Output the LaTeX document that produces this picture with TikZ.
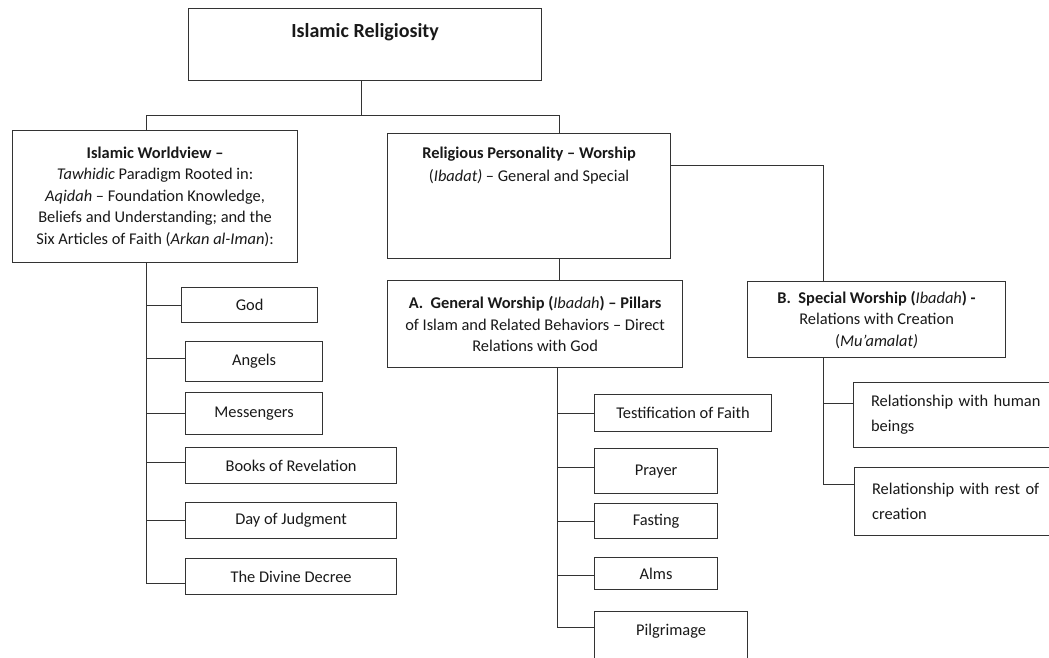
\documentclass[tikz,border=0pt]{standalone}
\usepackage{fontspec}
\setmainfont{Carlito}
\begin{document}
\begin{tikzpicture}[x=1pt,y=-1pt,
  box/.style={draw=black!80, line width=1.2pt, rectangle, anchor=north west, inner sep=0pt, align=center, font=\fontsize{16.4}{21.5}\selectfont, text=black!90},
  conn/.style={draw=black!80, line width=1.2pt},
  lbl/.style={anchor=center, align=center, font=\fontsize{16.4}{22.5}\selectfont, text=black!90}]
\useasboundingbox (0,0) rectangle (1049,658);
\clip (0,0) rectangle (1049,658);
\fill[white] (0,0) rectangle (1049,658);

% main boxes
\node[box, minimum width=353, minimum height=72,
  label={[lbl, font=\fontsize{20}{24}\selectfont\bfseries, yshift=-24]north:Islamic Religiosity}] (top) at (188,8) {};
\node[box, minimum width=285, minimum height=132] (lw) at (12,130)
  {\textbf{Islamic Worldview –}\\ \textit{Tawhidic} Paradigm Rooted in:\\ \textit{Aqidah} – Foundation Knowledge,\\ Beliefs and Understanding; and the\\ Six Articles of Faith (\textit{Arkan al-Iman}):};
\node[box, minimum width=283, minimum height=125,
  label={[lbl, yshift=-32.5]north:\textbf{Religious Personality – Worship}\\(\textit{Ibadat)} – General and Special}] (rp) at (387,133) {};
\node[box, minimum width=295, minimum height=87] (ba) at (387,280)
  {\textbf{A.\ \ General Worship ({\mdseries\itshape Ibadah}) – Pillars}\\ of Islam and Related Behaviors – Direct\\ Relations with God};
\node[box, minimum width=258, minimum height=76] (bb) at (747,281)
  {\textbf{B.\ \ Special Worship ({\mdseries\itshape Ibadah}) -}\\ Relations with Creation\\ (\textit{Mu’amalat)}};

% articles of faith
\node[box, minimum width=136, minimum height=35] (god) at (181,287) {God};
\node[box, minimum width=137, minimum height=40] (ang) at (185,341) {Angels};
\node[box, minimum width=137, minimum height=42] (mes) at (185,392) {Messengers};
\node[box, minimum width=211, minimum height=36] (bok) at (185,447) {Books of Revelation};
\node[box, minimum width=211, minimum height=36] (day) at (185,502) {Day of Judgment};
\node[box, minimum width=211, minimum height=36] (dec) at (185,558) {The Divine Decree};

% pillars
\node[box, minimum width=177, minimum height=37] (tes) at (594,394) {Testification of Faith};
\node[box, minimum width=123, minimum height=45] (pra) at (594,448) {Prayer};
\node[box, minimum width=123, minimum height=35] (fas) at (594,503) {Fasting};
\node[box, minimum width=123, minimum height=32] (alm) at (594,557) {Alms};
\node[box, minimum width=153, minimum height=70,
  label={[lbl, yshift=-20]north:Pilgrimage}] (pil) at (594,611) {};

% relations
\node[box, minimum width=225, minimum height=65, align=left, text width=190, inner xsep=17,
  font=\fontsize{16.4}{25}\selectfont] (hum) at (853,382) {Relationship with human\\beings};
\node[box, minimum width=225, minimum height=68, align=left, text width=190, inner xsep=17,
  font=\fontsize{16.4}{25}\selectfont] (res) at (854,467) {Relationship with rest of\\creation};

% connectors
\draw[conn] ([xshift=-3.5]top.south) -- ++(0,34) coordinate (j);
\draw[conn] ([xshift=-8.5]lw.north) |- (j) -| ([xshift=30.5]rp.north);
\draw[conn] ([xshift=30.5]rp.south) -- ([xshift=30.5]rp.south |- ba.north);
\draw[conn] ([yshift=30.5]rp.east) -| ([xshift=-53]bb.north);

\path ([xshift=-8.5]lw.south) coordinate (lt);
\draw[conn] (lt) |- (god.west);
\draw[conn] (lt) |- ([yshift=3]ang.west);
\draw[conn] (lt) |- (mes.west);
\draw[conn] (lt) |- ([yshift=3]bok.west);
\draw[conn] (lt) |- (day.west);
\draw[conn] (lt) |- ([yshift=-7]dec.west);

\path ([xshift=22.5]ba.south) coordinate (at);
\draw[conn] (at) |- (tes.west);
\draw[conn] (at) |- ([yshift=3.5]pra.west);
\draw[conn] (at) |- (fas.west);
\draw[conn] (at) |- ([yshift=-2]alm.west);
\draw[conn] (at) |- ([yshift=19]pil.west);

\path ([xshift=-53]bb.south) coordinate (bt);
\draw[conn] (bt) |- ([yshift=11.5]hum.west);
\draw[conn] (bt) |- ([yshift=17]res.west);
\end{tikzpicture}
\end{document}
